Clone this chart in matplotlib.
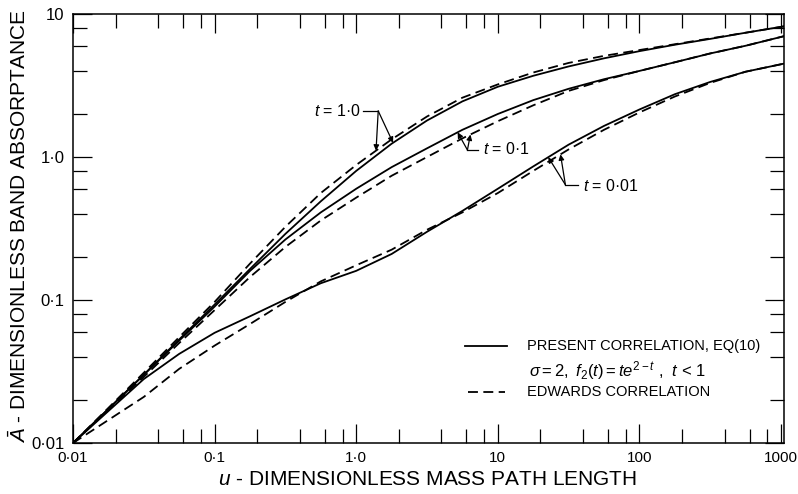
import numpy as np
import matplotlib.pyplot as plt
from matplotlib.lines import Line2D

# u - dimensionless mass path length
u = [0.01, 0.0316, 0.0562, 0.1, 0.178, 0.316, 0.562, 1.0, 1.78, 3.16,
     5.62, 10, 17.8, 31.6, 56.2, 100, 178, 316, 562, 1050]

# A - dimensionless band absorptance, for t = 1.0, 0.1 and 0.01
present_t1 = [0.01, 0.030, 0.053, 0.093, 0.165, 0.29, 0.49, 0.80, 1.24, 1.80,
              2.45, 3.1, 3.7, 4.3, 4.9, 5.5, 6.1, 6.7, 7.4, 8.2]
edwards_t1 = [0.01, 0.031, 0.055, 0.097, 0.18, 0.325, 0.56, 0.88, 1.33, 1.92,
              2.6, 3.22, 3.9, 4.55, 5.1, 5.6, 6.15, 6.75, 7.4, 8.2]
present_t01 = [0.01, 0.030, 0.052, 0.09, 0.16, 0.265, 0.41, 0.60, 0.85, 1.15,
               1.55, 2.0, 2.5, 3.0, 3.5, 4.0, 4.6, 5.3, 6.0, 7.0]
edwards_t01 = [0.01, 0.029, 0.050, 0.085, 0.145, 0.235, 0.36, 0.52, 0.74, 1.0,
               1.35, 1.78, 2.3, 2.9, 3.45, 4.0, 4.6, 5.3, 6.0, 7.0]
present_t001 = [0.01, 0.028, 0.042, 0.059, 0.077, 0.101, 0.131, 0.16, 0.21, 0.30,
                0.42, 0.60, 0.86, 1.22, 1.65, 2.15, 2.75, 3.35, 3.95, 4.5]
edwards_t001 = [0.01, 0.021, 0.033, 0.048, 0.068, 0.097, 0.135, 0.175, 0.225, 0.31,
                0.41, 0.56, 0.80, 1.13, 1.55, 2.05, 2.65, 3.3, 3.95, 4.5]

x_ticks = [0.01, 0.1, 1, 10, 100, 1000]
x_ticklabels = ['0·01', '0·1', '1·0', '10', '100', '1000']
y_ticks = [0.01, 0.1, 1, 10]
y_ticklabels = ['0·01', '0·1', '1·0', '10']

FONT = 'Liberation Sans'
plt.rcParams['font.family'] = [FONT, 'DejaVu Sans']
plt.rcParams['mathtext.fontset'] = 'custom'
plt.rcParams['mathtext.rm'] = FONT
plt.rcParams['mathtext.it'] = FONT + ':italic'
plt.rcParams['mathtext.bf'] = FONT + ':bold'

DASH = (0, (5.5, 3.0))
ARROW = dict(arrowstyle='-|>', color='black', lw=0.9, mutation_scale=8,
             shrinkA=0, shrinkB=0)


def curve_value(uu, series):
    """Read a curve at uu (log-log), used to put an arrow tip on it."""
    return 10 ** np.interp(np.log10(uu), np.log10(u), np.log10(series))


fig = plt.figure(figsize=(7.98, 4.94), dpi=100)
ax = fig.add_axes([0.0915, 0.1032, 0.891, 0.8684])

lw = 1.3
ax.plot(u, present_t1, color='black', lw=lw)
ax.plot(u, edwards_t1, color='black', lw=lw, linestyle=DASH)
ax.plot(u, present_t01, color='black', lw=lw)
ax.plot(u, edwards_t01, color='black', lw=lw, linestyle=DASH)
ax.plot(u, present_t001, color='black', lw=lw)
ax.plot(u, edwards_t001, color='black', lw=lw, linestyle=DASH)

ax.set_xscale('log')
ax.set_yscale('log')
ax.set_xlim(0.01, 1050)
ax.set_ylim(0.01, 10)

ax.set_xticks(x_ticks)
ax.set_xticklabels(x_ticklabels)
ax.set_yticks(y_ticks)
ax.set_yticklabels(y_ticklabels)
ax.xaxis.set_minor_locator(plt.LogLocator(base=10, subs=(2, 4, 6, 8)))
ax.yaxis.set_minor_locator(plt.LogLocator(base=10, subs=(2, 4, 6, 8)))
ax.xaxis.set_minor_formatter(plt.NullFormatter())
ax.yaxis.set_minor_formatter(plt.NullFormatter())
ax.tick_params(which='both', direction='in', top=True, right=True,
               width=0.9, labelsize=11)
ax.tick_params(axis='y', labelsize=12)
ax.tick_params(which='major', length=14, pad=6)
ax.tick_params(which='minor', length=10)
for sp in ax.spines.values():
    sp.set_linewidth(1.1)

ax.set_xlabel(r'$u$ - DIMENSIONLESS MASS PATH LENGTH', fontsize=15)
ax.set_ylabel(r'$\bar{A}$ - DIMENSIONLESS BAND ABSORPTANCE', fontsize=15)
ax.xaxis.set_label_coords(0.498, -0.062)
ax.yaxis.set_label_coords(-0.061, 0.505)

# curve labels with leaders
ax.text(1.08, 2.1, r'$t$ = 1·0', fontsize=11.5, ha='right', va='center')
ax.plot([1.12, 1.43], [2.1, 2.1], color='black', lw=0.9)
for uu, series in [(1.38, edwards_t1), (1.82, present_t1)]:
    ax.annotate('', xy=(uu, curve_value(uu, series)), xytext=(1.43, 2.1),
                arrowprops=ARROW)

ax.text(7.9, 1.13, r'$t$ = 0·1', fontsize=11.5, ha='left', va='center')
ax.plot([6.1, 7.3], [1.12, 1.12], color='black', lw=0.9)
for uu, series in [(5.2, present_t01), (6.4, edwards_t01)]:
    ax.annotate('', xy=(uu, curve_value(uu, series)), xytext=(6.1, 1.12),
                arrowprops=ARROW)

ax.text(40, 0.63, r'$t$ = 0·01', fontsize=11.5, ha='left', va='center')
ax.plot([30, 37], [0.64, 0.64], color='black', lw=0.9)
for uu, series in [(22.7, present_t001), (27.7, edwards_t001)]:
    ax.annotate('', xy=(uu, curve_value(uu, series)), xytext=(30, 0.64),
                arrowprops=ARROW)

# legend, drawn by hand in axes fraction
ax.add_line(Line2D([0.551, 0.611], [0.225, 0.225], color='black', lw=lw,
                   transform=ax.transAxes))
ax.text(0.638, 0.225, 'PRESENT CORRELATION, EQ(10)', fontsize=10.5,
        transform=ax.transAxes, va='center')
ax.text(0.642, 0.170, r'$\sigma = 2,\ f_2(t) = te^{2-t}$ ,  $t$ < 1', fontsize=12,
        transform=ax.transAxes, va='center')
ax.add_line(Line2D([0.555, 0.607], [0.120, 0.120], color='black', lw=lw,
                   linestyle=DASH, transform=ax.transAxes))
ax.text(0.638, 0.120, 'EDWARDS CORRELATION', fontsize=10.5,
        transform=ax.transAxes, va='center')

plt.savefig('out.png', dpi=100)
